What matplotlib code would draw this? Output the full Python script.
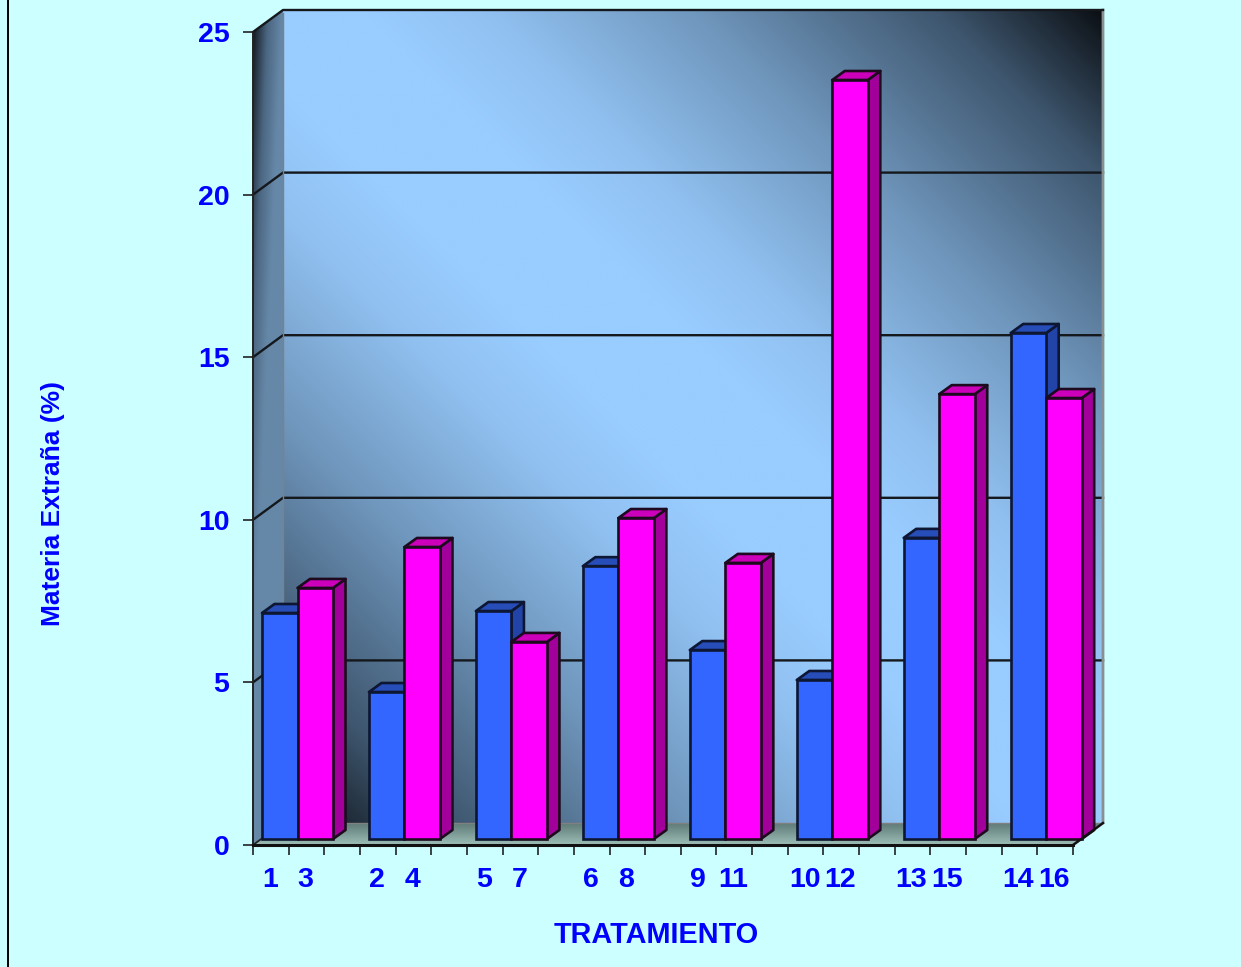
import numpy as np
import matplotlib
matplotlib.use("Agg")
import matplotlib.pyplot as plt
from matplotlib.colors import LinearSegmentedColormap
from matplotlib.patches import Polygon

# Data
group_labels = ["1", "3", "2", "4", "5", "7", "6", "8", "9", "11", "10", "12", "13", "15", "14", "16"]
blue_values = [6.95, 4.52, 7.01, 8.39, 5.81, 4.89, 9.26, 15.56]
magenta_values = [7.72, 8.98, 6.06, 9.87, 8.49, 23.34, 13.68, 13.56]
y_ticks = [0, 5, 10, 15, 20, 25]

W, H = 1241, 967
BG = "#CCFFFF"
TEXT = "#0000FF"
FONT = ["Liberation Sans", "DejaVu Sans"]
PLANE_L, PLANE_R, PLANE_B, PLANE_T = 253, 1073, 845, 32

plt.rcParams["font.family"] = FONT
fig = plt.figure(figsize=(W / 100, H / 100), dpi=100, facecolor=BG)
ax = fig.add_axes([PLANE_L / W, 1 - PLANE_B / H, (PLANE_R - PLANE_L) / W, (PLANE_B - PLANE_T) / H])
ax.patch.set_visible(False)
for s in ax.spines.values():
    s.set_visible(False)
ux = (PLANE_R - PLANE_L) / 23
uy = (PLANE_B - PLANE_T) / 25
WALL_DX, WALL_DY = 30 / ux, 22 / uy


def shaded(rgba, extent, clip_pts, zorder):
    im = ax.imshow(rgba, extent=extent, origin="upper", aspect="auto", zorder=zorder,
                   interpolation="bilinear")
    clip = Polygon(clip_pts, closed=True, transform=ax.transData, fc="none", ec="none")
    ax.add_patch(clip)
    clip.set_clip_on(False)
    im.set_clip_box(fig.bbox)
    im.set_clip_path(clip)


# Back wall: light along the main diagonal, darkening to two opposite corners
wall_cmap = LinearSegmentedColormap.from_list(
    "wall", [(0, "#99CCFF"), (0.1, "#99CCFF"), (0.25, "#90C0F0"), (0.5, "#7097BD"),
             (0.8, "#3E566E"), (1, "#0C1015")])
u, v = np.meshgrid(np.linspace(0, 1, 300), np.linspace(0, 1, 300))
wall = wall_cmap(np.abs(u - v))
x0, x1, y0, y1 = WALL_DX, 23 + WALL_DX, WALL_DY, 25 + WALL_DY
shaded(wall, (x0, x1, y0, y1), [(x0, y0), (x1, y0), (x1, y1), (x0, y1)], 1)

# Left wall: dark outer edge near the top, even mid-blue lower down
side_cmap = LinearSegmentedColormap.from_list("side", ["#10151A", "#4A6580", "#6688A8"])
su, sv = np.meshgrid(np.linspace(0, 1, 100), np.linspace(0, 1, 300))
side = side_cmap(np.clip(su + 1.3 * sv, 0, 1))
shaded(side, (0, WALL_DX, 0, y1),
       [(0, 0), (WALL_DX, WALL_DY), (WALL_DX, y1), (0, 25)], 2)

# Floor: grey-green gradient, darker at the back
floor_cmap = LinearSegmentedColormap.from_list("floor", ["#5F7A78", "#9DBFB6"])
fu, fv = np.meshgrid(np.linspace(0, 1, 300), np.linspace(0, 1, 60))
floor = floor_cmap(fv)
shaded(floor, (0, x1, 0, WALL_DY),
       [(0, 0), (23, 0), (x1, WALL_DY), (WALL_DX, WALL_DY)], 2)

# Gridlines on back and left walls
for t in y_ticks[1:-1]:
    ax.plot([0, WALL_DX, x1], [t, t + WALL_DY, t + WALL_DY], color="#14181C", lw=1.7, zorder=3, clip_on=False,
            solid_joinstyle="miter")

# Wall outlines
ax.plot([x1, x1, 23], [y1, WALL_DY, 0], color="#8A8F92", lw=2.0, zorder=3, clip_on=False)
ax.plot([0, WALL_DX, x1], [25, y1, y1], color="#14181C", lw=1.7, zorder=3, clip_on=False)
ax.plot([WALL_DX, WALL_DX], [WALL_DY, y1 - 0.1], color="#808080", lw=1.0, zorder=3, clip_on=False)
ax.plot([WALL_DX, x1], [WALL_DY, WALL_DY], color="#808080", lw=1.0, zorder=3, clip_on=False)
ax.plot([0, WALL_DX], [0, WALL_DY], color="#222222", lw=1.3, zorder=3, clip_on=False)
ax.plot([23, x1], [0, WALL_DY], color="#111111", lw=1.7, zorder=8, clip_on=False)
ax.plot([0, 23], [0, 0], color="#111111", lw=2.2, zorder=8, clip_on=False)
ax.plot([0, 0], [0, 25], color="#222222", lw=1.4, zorder=3, clip_on=False)

# 3D columns
BAR_W = 35.5 / ux
BAR_X0 = 9 / ux
BAR_Y0 = 6 / uy
DEPTH_X, DEPTH_Y = 12.5 / ux, 9 / uy
GROUP_STEP = 3
EDGE_LW = 1.9


def column(x, value, front, top, side, edge, z):
    b = BAR_Y0
    t = BAR_Y0 + value
    r = x + BAR_W
    kw = dict(ec=edge, lw=EDGE_LW, joinstyle="round", clip_on=False, zorder=z)
    ax.add_patch(Polygon([(r, b), (r + DEPTH_X, b + DEPTH_Y), (r + DEPTH_X, t + DEPTH_Y), (r, t)], fc=side, **kw))
    ax.add_patch(Polygon([(x, t), (x + DEPTH_X, t + DEPTH_Y), (r + DEPTH_X, t + DEPTH_Y), (r, t)], fc=top, **kw))
    ax.bar(x, value, width=BAR_W, bottom=b, align="edge", color=front, edgecolor=edge, linewidth=EDGE_LW,
           clip_on=False, zorder=z)


for i, (bv, mv) in enumerate(zip(blue_values, magenta_values)):
    gx = BAR_X0 + i * GROUP_STEP
    column(gx, bv, "#3366FF", "#264DB8", "#2244A8", "#0D1633", 5 + i * 0.1)
    column(gx + BAR_W, mv, "#FF00FF", "#CC00BB", "#A3009B", "#1E0A1E", 5.05 + i * 0.1)

# Axes limits are fixed last so the shaded images do not alter them
ax.set_xlim(0, 23)
ax.set_ylim(0, 25)

ax.set_xticks(np.arange(0, 24))
ax.set_xticklabels([])
ax.set_yticks(y_ticks)
ax.set_yticklabels([str(t) for t in y_ticks], fontsize=20.5, fontweight="bold", color=TEXT)
ax.tick_params(axis="x", length=7.5, width=1.2, color="#222222", direction="out", pad=0)
ax.tick_params(axis="y", length=7, width=1.2, color="#222222", direction="out", pad=10)

for i, lab in enumerate(group_labels):
    g = i // 2
    pos = g * GROUP_STEP + (0.47 if i % 2 == 0 else 1.47)
    ax.annotate(lab, xy=(pos, 0), xycoords="data", xytext=(0, -35), textcoords="offset pixels",
                ha="center", va="center", fontsize=20.5, fontweight="bold", color=TEXT,
                annotation_clip=False)

fig.text(656 / W, 1 - 935 / H, "TRATAMIENTO", ha="center", va="center", fontsize=20.8, fontweight="bold",
         color=TEXT)
fig.text(53 / W, 1 - 503 / H, "Materia Extraña (%)", ha="center", va="center", rotation=90, fontsize=19,
         fontweight="bold", color=TEXT)

# Left frame rule of the slide
fig.add_artist(plt.Line2D([7.5 / W, 7.5 / W], [0, 1], color="black", lw=1.4))

fig.savefig("out.png", dpi=100, facecolor=BG)
